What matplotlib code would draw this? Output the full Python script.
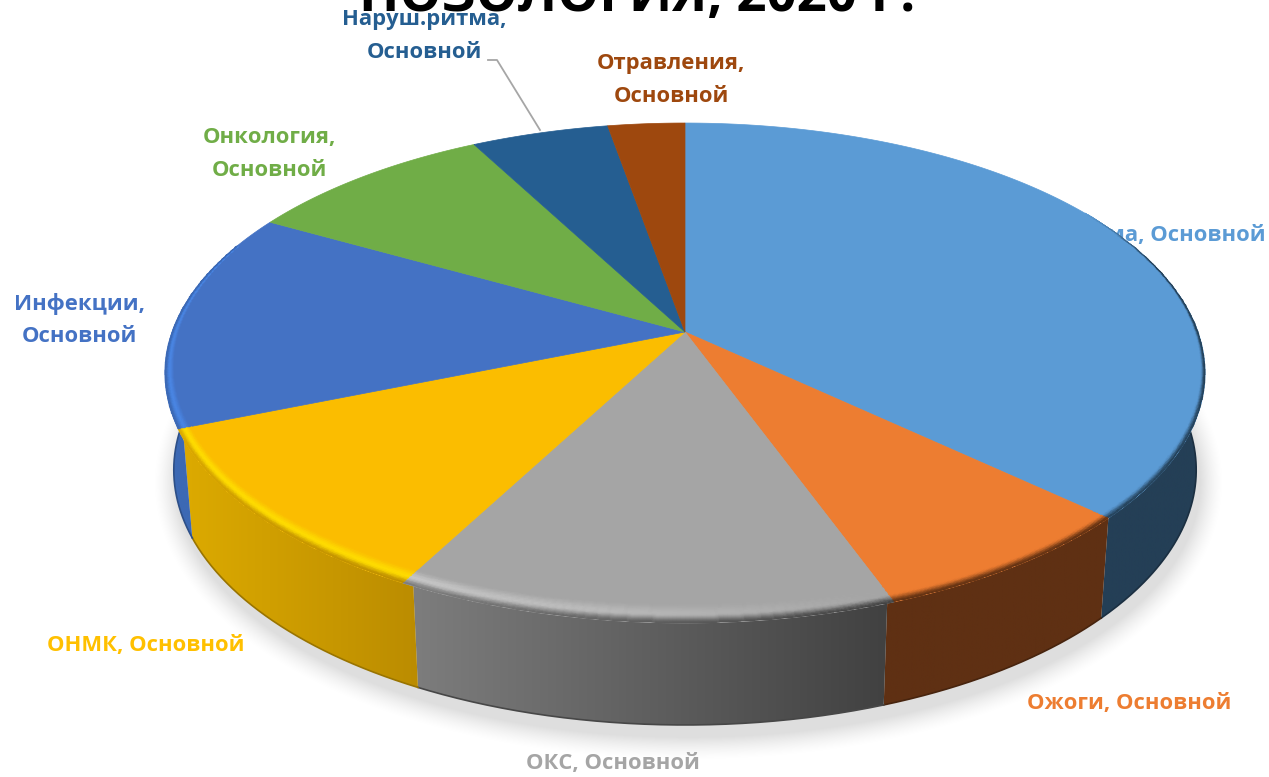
import numpy as np
import matplotlib
matplotlib.use('Agg')
import matplotlib.pyplot as plt
from matplotlib.colors import to_rgb
from matplotlib.patches import Polygon

W, H = 1269, 777

names = ['Травма', 'Ожоги', 'ОКС', 'ОНМК', 'Инфекции', 'Онкология', 'Наруш.ритма', 'Отравления']
shares = [36.9, 7.5, 13.4, 11.1, 14.2, 9.1, 5.0, 2.8]
face_colors = ['#5b9bd5', '#ed7d31', '#a5a5a5', '#fbbd00', '#4472c4', '#70ad47', '#255e91', '#9e480e']
label_colors = ['#5b9bd5', '#ed7d31', '#a5a5a5', '#ffc000', '#4472c4', '#70ad47', '#255e91', '#9e480e']
# side wall colour at the left and right end of each front slice
side_left = ['#243f56', '#5f3013', '#7d7d7d', '#dcaa00', '#3c69b4']
side_right = ['#243f56', '#5f3013', '#414141', '#bb8c00', '#3c69b4']
# highlight on the rounded edge, left and right end of each front slice
glow_left = ['#5b9bd5', '#ed7d31', '#c8c8c8', '#ffdd00', '#4a86e4']
glow_right = ['#5b9bd5', '#ed7d31', '#a5a5a5', '#ffdd00', '#4a86e4']
# wall seams sit a little off the face seams because the corners are rounded (degrees)
seam_shift = [0, 0, 0.7, -1.2, -2.4, 0]

# perspective of the disc
cx, apex_y = 685, 332
C, A, D = 0.164, -188.8, 513
rim_cy = 373


def rim(theta):
    u, v = np.sin(theta), np.cos(theta)
    den = 1 + C * v
    return cx + D * u / den, (A * v + apex_y) / den


def floor(theta):
    x, y = rim(theta)
    return cx + (x - cx) * 0.983, 470 + (y - rim_cy) * 1.02


def inset(x, y, w):
    # slide rim points toward the centre; the bevel gets thin on the far side
    k = 0.12 + 0.88 * np.clip((y - 250) / 300, 0, 1)
    length = np.hypot(x - cx, y - apex_y)
    f = 1 - w * k / length
    return cx + (x - cx) * f, apex_y + (y - apex_y) * f


fig = plt.figure(figsize=(W / 100, H / 100), dpi=100)
ax = fig.add_axes([0, 0, 1, 1])

# soft shadow under the disc
xx, yy = np.meshgrid(np.arange(W), np.arange(H))
ex, ey = (xx - 688) / 512, (yy - 482) / 255
r = np.sqrt(ex ** 2 + ey ** 2) + 1e-6
grad = np.sqrt((ex / 512) ** 2 + (ey / 255) ** 2) / r
dist = (r - 1) / grad
shadow = np.zeros((H, W, 4))
shadow[..., 3] = np.clip(1 - dist / 24, 0, 1) ** 1.5 * 0.13
ax.imshow(shadow, extent=(0, W, H, 0), aspect='auto', zorder=1, interpolation='bilinear')

label_font = ['Open Sans', 'DejaVu Sans']
label_size = 15.8
ax.text(1266, 235, 'Травма, Основной', color=label_colors[0], fontsize=label_size, fontweight='bold',
        family=label_font, ha='right', va='center', zorder=2)

edges = np.cumsum([0] + shares) / sum(shares) * 2 * np.pi

# side walls, only the front part can be seen
for i in range(5):
    t0 = max(edges[i] + np.radians(seam_shift[i]), np.radians(80))
    t1 = min(edges[i + 1] + np.radians(seam_shift[i + 1]), np.radians(280))
    th = np.linspace(t0, t1, 150)
    x1, y1 = rim(th)
    x2, y2 = floor(th)
    pts = np.column_stack([np.r_[x1, x2[::-1]], np.r_[y1, y2[::-1]]])
    poly = Polygon(pts, closed=True, transform=ax.transData, facecolor='none', edgecolor='none')
    ax.add_patch(poly)
    left, right = np.array(to_rgb(side_left[i])), np.array(to_rgb(side_right[i]))
    ramp = np.linspace(0, 1, 256)[:, None] * (right - left) + left
    im = ax.imshow(ramp[None, :, :], extent=(pts[:, 0].min(), pts[:, 0].max(), pts[:, 1].max(), pts[:, 1].min()),
                   aspect='auto', zorder=3)
    im.set_clip_path(poly)
    ax.plot(x2, y2, color=(left + right) / 2 * 0.75, lw=1.2, zorder=3.1)

# top faces
for i in range(8):
    th = np.linspace(edges[i], edges[i + 1], 200)
    x, y = rim(th)
    ax.add_patch(Polygon(np.column_stack([np.r_[cx, x], np.r_[apex_y, y]]), closed=True,
                         facecolor=face_colors[i], edgecolor=face_colors[i], lw=0.5, zorder=4))

# rounded edge of the disc, not drawn on the far side
band_w = np.linspace(20, 0, 21)
for i in range(5):
    th = np.linspace(max(edges[i], np.radians(58)), min(edges[i + 1], np.radians(292)), 121)
    x, y = rim(th)
    gx = np.array([inset(x, y, w)[0] for w in band_w])
    gy = np.array([inset(x, y, w)[1] for w in band_w])
    # position along the slice, x runs from its right end to its left end
    along = np.linspace(0, 1, 120)[:, None]
    # fade the first and last stretch so the bevel has no hard start
    fade = np.ones((120, 1))
    if i == 0:
        fade = np.clip(np.linspace(0, 1, 120)[:, None] / 0.2, 0, 1)
    face = np.array(to_rgb(face_colors[i]))
    g_l, g_r = np.array(to_rgb(glow_left[i])), np.array(to_rgb(glow_right[i]))
    s_l, s_r = np.array(to_rgb(side_left[i])), np.array(to_rgb(side_right[i]))
    glow = g_r + (g_l - g_r) * along
    wall = s_r + (s_l - s_r) * along
    wall = face + (wall - face) * fade
    cells = np.zeros((20, 120, 3))
    for j in range(20):
        s = (j + 0.5) / 20
        if s < 0.55:
            m = s / 0.55
            m = m * m * (3 - 2 * m)
            cells[j] = face + (glow - face) * m
        else:
            m = (s - 0.55) / 0.45
            m = m * m * (3 - 2 * m)
            cells[j] = glow + (wall - glow) * m
    ax.pcolormesh(gx, gy, cells, shading='flat', zorder=5, antialiased=True, edgecolors='face', linewidth=0.25)

# heading runs off the top edge
ax.text(637, 11, 'НОЗОЛОГИЯ, 2020 Г.', color='black', fontsize=38, fontweight='bold',
        family=label_font, ha='center', va='baseline', zorder=6)

# slice labels
label_pos = [(1129, 704), (613, 764), (146, 646)]
for i, (px, py) in zip([1, 2, 3], label_pos):
    ax.text(px, py, names[i] + ', Основной', color=label_colors[i], fontsize=label_size, fontweight='bold',
            family=label_font, ha='center', va='center', zorder=7)

two_line = {4: (79, 304, 336), 5: (269, 137, 170), 6: (424, 20, 53), 7: (671, 64, 97)}
for i, (px, y_a, y_b) in two_line.items():
    ax.text(px, y_a, names[i] + ',', color=label_colors[i], fontsize=label_size, fontweight='bold',
            family=label_font, ha='center', va='center', zorder=7)
    ax.text(px, y_b, 'Основной', color=label_colors[i], fontsize=label_size, fontweight='bold',
            family=label_font, ha='center', va='center', zorder=7)

# leader line for the small slice
ax.plot([488, 497, 540], [60, 60, 130], color='#a6a6a6', lw=1.3, zorder=3)

ax.set_xlim(0, W)
ax.set_ylim(H, 0)
ax.axis('off')

fig.savefig('out.png', dpi=100)
